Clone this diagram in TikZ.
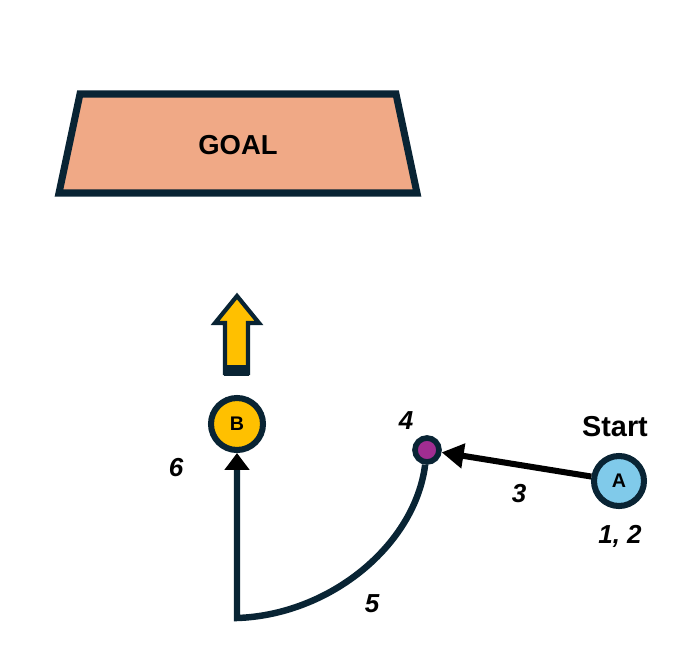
\documentclass[tikz,border=0pt]{standalone}
\usepackage{fontspec}
\setmainfont{Liberation Sans}
\usepackage{xcolor}
\usepackage{tikz}
\definecolor{outlinecolor}{RGB}{9, 36, 52}
\definecolor{goalcolor}{RGB}{240, 169, 134}
\definecolor{goldcolor}{RGB}{255, 192, 0}
\definecolor{purplecolor}{RGB}{160, 45, 145}
\definecolor{skycolor}{RGB}{128, 202, 234}
\usetikzlibrary{arrows.meta, positioning, calc}

\begin{document}
\begin{tikzpicture}[
    x=0.025cm, y=-0.025cm,
    bigdot/.style={circle, draw=outlinecolor, line width=4.3pt, minimum size=1.3cm, inner sep=0pt, font=\fontsize{14}{16}\selectfont\bfseries},
    smalldot/.style={circle, draw=outlinecolor, fill=purplecolor, line width=4pt, minimum size=0.6cm, inner sep=0pt},
    steplabel/.style={font=\fontsize{18.5}{22}\selectfont\bfseries\itshape},
    moveline/.style={line width=4.3pt, draw=black, -{Triangle[length=0.55cm, width=0.6cm]}},
    curveline/.style={line width=4.6pt, draw=outlinecolor, -{Triangle[length=0.42cm, width=0.6cm, color=black]}}
]
    \useasboundingbox (0,0) rectangle (686,667);

    % Goal
    \draw[fill=goalcolor, draw=outlinecolor, line width=5pt, line join=miter]
        (80,94) -- (396,94) -- (417,193) -- (59,193) -- cycle;
    \node[font=\fontsize{19.5}{22}\selectfont\bfseries] (goal) at (238,145) {GOAL};

    % Up arrow
    \draw[fill=goldcolor, draw=outlinecolor, line width=3pt, line join=miter]
        (237,296) -- (259,323) -- (248,323) -- (248,373) -- (225,373) -- (225,323) -- (215,323) -- cycle;
    \fill[outlinecolor] (224,365) rectangle (249,376);

    % Points
    \node[bigdot, fill=goldcolor] (nodeB) at (237,424) {B};
    \node[smalldot] (dot) at (427,450) {};
    \node[bigdot, fill=skycolor, minimum size=1.25cm] (nodeA) at (619,481) {A};
    \coordinate (corner) at (237,618);

    % Moves
    \draw[moveline] (nodeA) -- (dot);
    \draw[curveline] (dot) .. controls (415,545) and (330,615) .. (corner) -- (nodeB);

    % Labels
    \node[font=\fontsize{20.5}{24}\selectfont\bfseries] (start) at (615,427) {Start};
    \node[steplabel] (step12) at (620,536) {1, 2};
    \node[steplabel] (step3) at (519,494) {3};
    \node[steplabel] (step4) at (406,421) {4};
    \node[steplabel] (step5) at (372,604) {5};
    \node[steplabel] (step6) at (176,468) {6};
\end{tikzpicture}
\end{document}
